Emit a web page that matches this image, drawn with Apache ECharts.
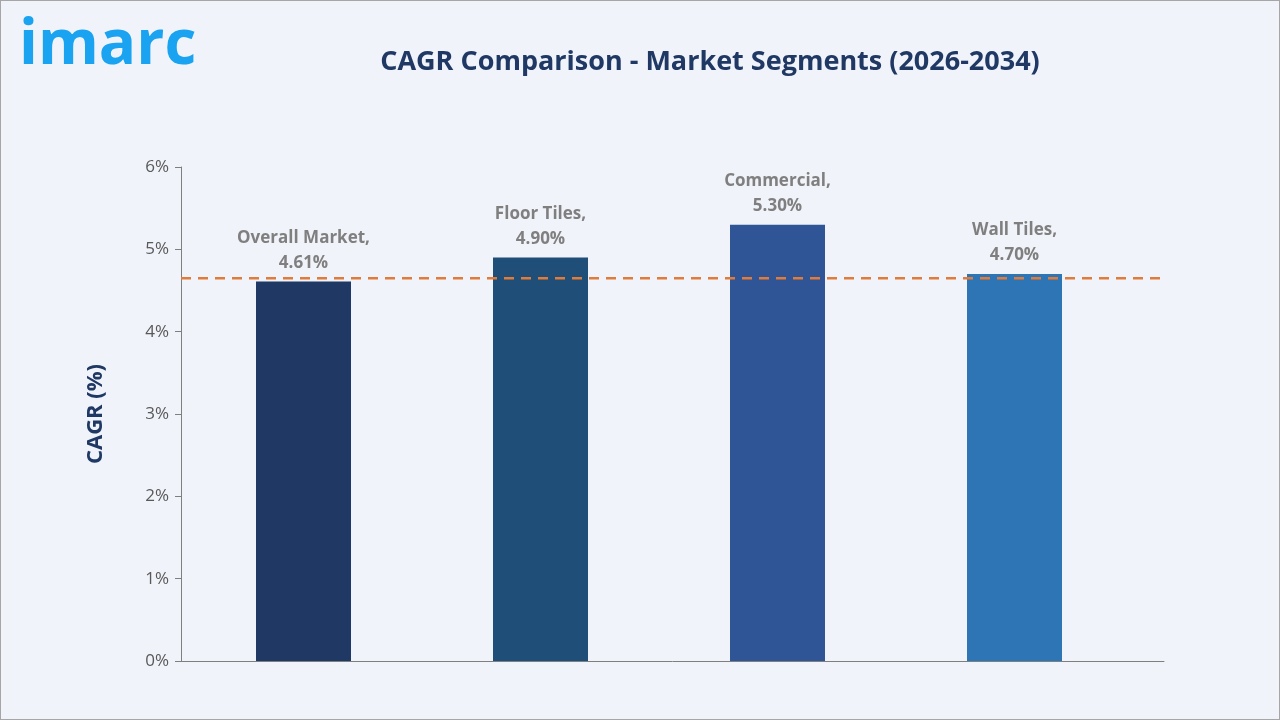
<!DOCTYPE html>
<html>
<head>
<meta charset="utf-8">
<script src="https://cdn.jsdelivr.net/npm/echarts@6/dist/echarts.min.js"></script>
<style>
html,body{margin:0;padding:0;background:#fff;}
#chart{width:1278px;height:718px;border:1px solid #a6a6a6;background:#f0f3f9;}
</style>
</head>
<body>
<div id="chart"></div>
<script>
var categories = ["Overall Market", "Floor Tiles", "Commercial", "Wall Tiles"];
var cagrValues = [4.61, 4.90, 5.30, 4.70];
var barColors = ["#203864", "#1f4e79", "#2f5597", "#2e75b6"];
var referenceLine = 4.65;

var myChart = echarts.init(document.getElementById("chart"));
myChart.setOption({
	backgroundColor: "#f0f3f9",
	title: {
		text: "CAGR Comparison - Market Segments (2026-2034)",
		left: 704, top: 43, textAlign: "center",
		textStyle: { color: "#203864", fontSize: 27, fontWeight: "bold", fontFamily: "'Open Sans', sans-serif" }
	},
	graphic: [{
		type: "text", left: 18, top: 14,
		style: { text: "imarc", fill: "#1aa3f0", fontSize: 62, fontWeight: "bold", fontFamily: "'Open Sans', sans-serif" }
	}],
	grid: [
		{ left: 184, right: 146, top: 166, bottom: 58 },
		{ left: 180, right: 115, top: 166, bottom: 58 }
	],
	xAxis: [{
		type: "category", gridIndex: 0, data: categories,
		axisLine: { show: false }, axisTick: { show: false }, axisLabel: { show: false }
	}, {
		type: "value", gridIndex: 1, min: 0, max: 1, show: true,
		axisLine: { show: true, lineStyle: { color: "#7f7f7f" } },
		axisTick: { show: false }, axisLabel: { show: false }, splitLine: { show: false }
	}],
	yAxis: [{
		type: "value", gridIndex: 0, min: 0, max: 6, interval: 1,
		name: "CAGR (%)", nameLocation: "middle", nameGap: 78, nameRotate: 90,
		nameTextStyle: { color: "#203864", fontSize: 22, fontWeight: "bold", fontFamily: "'Open Sans', sans-serif" },
		axisLine: { show: false }, axisTick: { show: false }, splitLine: { show: false },
		axisLabel: { formatter: "{value}%", color: "#595959", fontSize: 17, margin: 16, fontFamily: "'Open Sans', sans-serif" }
	}, {
		type: "value", gridIndex: 1, min: 0, max: 6, interval: 1,
		axisLine: { show: true, lineStyle: { color: "#7f7f7f" } },
		axisTick: { show: true, inside: false, length: 6, lineStyle: { color: "#7f7f7f" } },
		axisLabel: { show: false }, splitLine: { show: false }
	}],
	series: [{
		type: "bar", xAxisIndex: 0, yAxisIndex: 0, barWidth: 95,
		data: cagrValues.map(function (v, i) { return { value: v, itemStyle: { color: barColors[i] } }; }),
		label: {
			show: true, position: "top", distance: 6, lineHeight: 25,
			color: "#7f7f7f", fontSize: 17, fontWeight: "bold", fontFamily: "'Open Sans', sans-serif",
			formatter: function (p) { return categories[p.dataIndex] + ",\n" + p.value.toFixed(2) + "%"; }
		}
	}, {
		type: "line", xAxisIndex: 1, yAxisIndex: 1, symbol: "none", silent: true,
		data: [[0, referenceLine], [1, referenceLine]],
		lineStyle: { color: "#e07b39", width: 2.5, type: [10, 7] }
	}]
});
</script>
</body>
</html>
